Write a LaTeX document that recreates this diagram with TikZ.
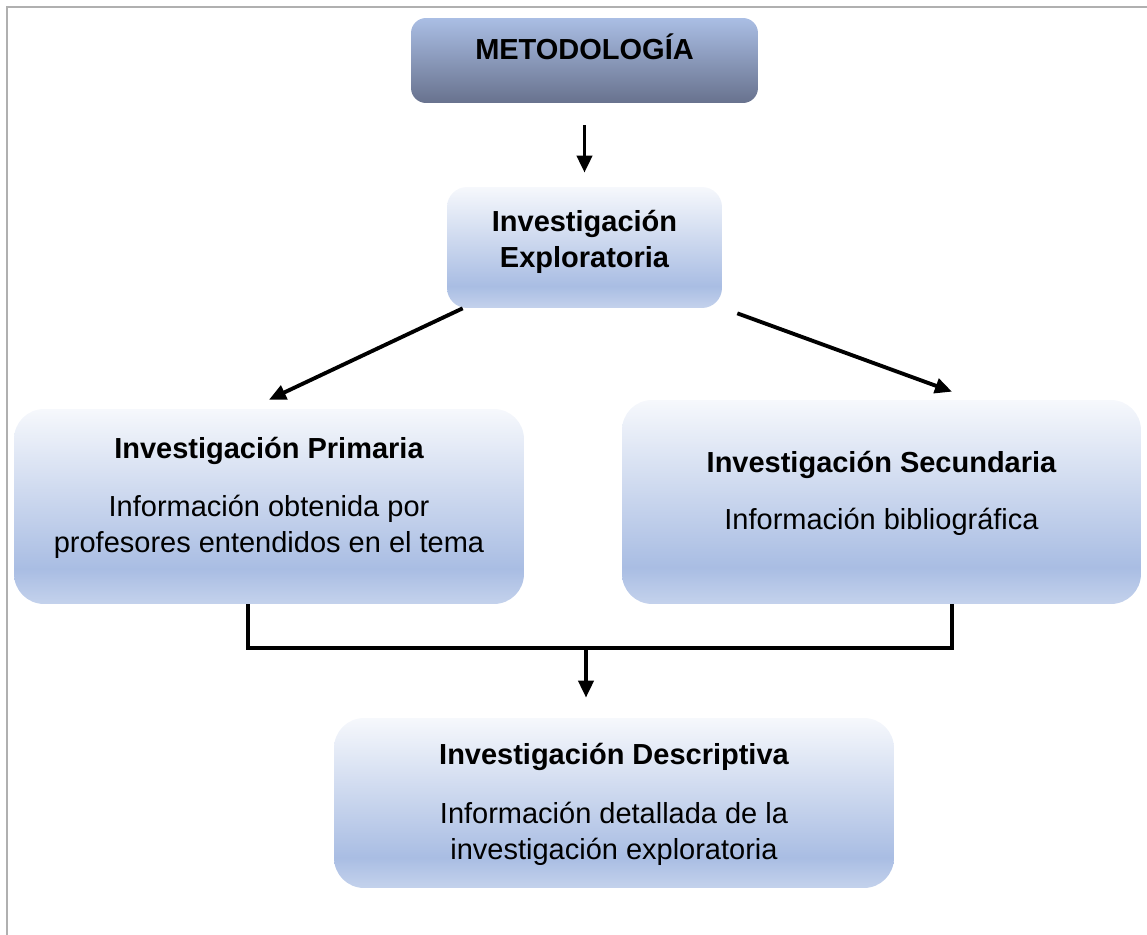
\documentclass[tikz,border=0pt]{standalone}
\usepackage{fontspec}
\setmainfont{Liberation Sans}
\usetikzlibrary{arrows.meta,calc}

\definecolor{fadetop}{HTML}{F6F8FC}
\definecolor{fademid}{HTML}{A9BDE3}
\definecolor{fadelow}{HTML}{C4D2EC}
\definecolor{metatop}{HTML}{AABEE4}
\definecolor{metabot}{HTML}{68728E}
\definecolor{framegray}{HTML}{B0B0B0}

\pgfdeclareverticalshading{boxfade}{100bp}{color(0bp)=(fadelow); color(25bp)=(fadelow);
  color(34bp)=(fademid); color(75bp)=(fadetop); color(100bp)=(fadetop)}
\pgfdeclareverticalshading{metafade}{100bp}{color(0bp)=(metabot); color(25bp)=(metabot);
  color(75bp)=(metatop); color(100bp)=(metatop)}

\newcommand\boxfont{\fontsize{16.5}{20.4}\selectfont}

\begin{document}
\begin{tikzpicture}[x=0.02cm,y=-0.02cm,
    conn/.style={line width=2.2pt,-{Triangle[length=0.34cm,width=0.3cm]}},
    bracket/.style={line width=2.2pt},
    title/.style={font=\boxfont\bfseries,inner sep=0pt,align=center},
    info/.style={font=\boxfont,inner sep=0pt,align=center}]

  \useasboundingbox (0,0) rectangle (1147,935);
  \draw[framegray,line width=0.05cm] (7,935) -- (7,7) -- (1147,7);

  % boxes
  \begin{scope}[every node/.style={shade,shading=boxfade,inner sep=0pt,rounded corners=0.6cm}]
    \node[shading=metafade,rounded corners=0.3cm,minimum width=6.94cm,minimum height=1.7cm] (meta) at (584.5,60.5) {};
    \node[rounded corners=0.4cm,minimum width=5.5cm,minimum height=2.42cm] (explor) at (584.5,247.5) {};
    \node[minimum width=10.2cm,minimum height=3.9cm] (prim) at (269,506.5) {};
    \node[minimum width=10.38cm,minimum height=4.08cm] (sec) at (881.5,502) {};
    \node[minimum width=11.2cm,minimum height=3.4cm] (desc) at (614,803) {};
  \end{scope}

  % texts
  \node[title] (metaT) at (584.5,47) {METODOLOGÍA};
  \node[title] (explorT) at (584.5,242) {Investigación\\Exploratoria};
  \node[title] (primT) at (269,451) {Investigación Primaria};
  \node[info] (primI) at (269,527) {Información obtenida por\\profesores entendidos en el tema};
  \node[title] (secT) at (881.5,465) {Investigación Secundaria};
  \node[info] (secI) at (881.5,522) {Información bibliográfica};
  \node[title] (descT) at (614,757) {Investigación Descriptiva};
  \node[info] (descI) at (614,833.5) {Información detallada de la\\investigación exploratoria};

  % connectors
  \coordinate (join) at (586,648);
  \path (meta) edge[conn,shorten <=0.44cm,shorten >=0.28cm] (explor);
  \path ($(explor.south west)+(16,0)$) edge[conn] ($(prim.north)+(0,-9)$);
  \path ($(explor.south east)+(15,5)$) edge[conn] ($(sec.north)+(70.5,-8)$);
  \draw[bracket] ($(prim.south)+(-21,0)$) |- (join) -| ($(sec.south)+(70.5,0)$);
  \path (join) edge[conn,shorten >=0.4cm] (join |- desc.north);

\end{tikzpicture}
\end{document}
